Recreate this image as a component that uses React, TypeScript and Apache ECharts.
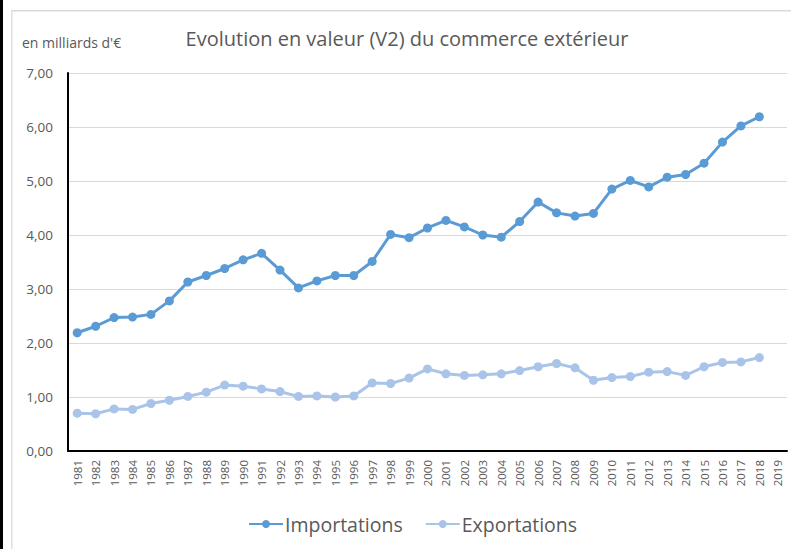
import React, { useEffect, useRef } from "react";
import * as echarts from "echarts";

const years = [
  "1981","1982","1983","1984","1985","1986","1987","1988","1989","1990",
  "1991","1992","1993","1994","1995","1996","1997","1998","1999","2000",
  "2001","2002","2003","2004","2005","2006","2007","2008","2009","2010",
  "2011","2012","2013","2014","2015","2016","2017","2018","2019",
];

const importations: (number | null)[] = [
  2.19, 2.31, 2.47, 2.48, 2.53, 2.78, 3.13, 3.25, 3.38, 3.54,
  3.66, 3.35, 3.02, 3.15, 3.25, 3.25, 3.51, 4.01, 3.95, 4.13,
  4.27, 4.15, 4.0, 3.96, 4.25, 4.61, 4.41, 4.35, 4.4, 4.85,
  5.01, 4.89, 5.07, 5.12, 5.33, 5.72, 6.02, 6.19, null,
];

const exportations: (number | null)[] = [
  0.7, 0.69, 0.78, 0.77, 0.88, 0.94, 1.01, 1.09, 1.22, 1.2,
  1.15, 1.1, 1.01, 1.02, 1.0, 1.02, 1.26, 1.25, 1.35, 1.52,
  1.43, 1.4, 1.41, 1.43, 1.49, 1.56, 1.62, 1.54, 1.31, 1.36,
  1.38, 1.46, 1.47, 1.4, 1.56, 1.64, 1.65, 1.73, null,
];

const FONT = "'Open Sans', 'Liberation Sans', sans-serif";
const TEXT = "#595959";

export default function App() {
  const ref = useRef<HTMLDivElement>(null);
  useEffect(() => {
    if (!ref.current) return;
    const chart = echarts.init(ref.current, null, { renderer: "svg" });
    chart.setOption({
      animation: false,
      backgroundColor: "#ffffff",
      textStyle: { fontFamily: FONT },
      title: {
        text: "Evolution en valeur (V2) du commerce extérieur",
        left: 402,
        textAlign: "center",
        top: 23,
        textStyle: { fontFamily: FONT, fontSize: 20, fontWeight: "normal", color: TEXT },
      },
      graphic: [
        { type: "rect", left: 0, top: 0, shape: { width: 3, height: 549 }, style: { fill: "#000" } },
        { type: "rect", left: 11, top: 10, shape: { width: 1.5, height: 539 }, style: { fill: "#E0E0E0" } },
        { type: "rect", left: 12, top: 10, shape: { width: 779, height: 1.5 }, style: { fill: "#D9D9D9" } },
        {
          type: "text",
          left: 22,
          top: 35,
          style: { text: "en milliards d'€", fontFamily: FONT, fontSize: 14, fill: TEXT },
        },
      ],
      legend: {
        bottom: 10,
        left: 243,
        itemWidth: 34,
        itemHeight: 10,
        itemGap: 22,
        textStyle: { fontFamily: FONT, fontSize: 19.5, color: TEXT, padding: [0, 0, 0, -3] },
        data: ["Importations", "Exportations"],
      },
      grid: { left: 68, right: 4, top: 73, bottom: 98 },
      xAxis: {
        type: "category",
        data: years,
        boundaryGap: true,
        axisLine: { show: true, lineStyle: { color: "#000", width: 2 } },
        axisTick: { show: false },
        axisLabel: { rotate: 90, interval: 0, fontSize: 11.5, color: TEXT, margin: 9, fontFamily: FONT },
      },
      yAxis: {
        type: "value",
        min: 0,
        max: 7,
        interval: 1,
        axisLine: { show: true, lineStyle: { color: "#000", width: 2 } },
        axisTick: { show: false },
        splitLine: { lineStyle: { color: "#D9D9D9", width: 1 } },
        axisLabel: {
          fontSize: 13.5,
          color: TEXT,
          margin: 15,
          fontFamily: FONT,
          formatter: (v: number) => v.toFixed(2).replace(".", ","),
        },
      },
      series: [
        {
          name: "Importations",
          type: "line",
          data: importations,
          symbol: "circle",
          symbolSize: 9,
          lineStyle: { color: "#5B9BD5", width: 3 },
          itemStyle: { color: "#5B9BD5" },
        },
        {
          name: "Exportations",
          type: "line",
          data: exportations,
          symbol: "circle",
          symbolSize: 9,
          lineStyle: { color: "#A9C4E8", width: 3 },
          itemStyle: { color: "#A9C4E8" },
        },
      ],
    });
    return () => chart.dispose();
  }, []);
  return (
    <div
      ref={ref}
      style={{ position: "fixed", left: 0, top: 0, width: 791, height: 549 }}
    />
  );
}
